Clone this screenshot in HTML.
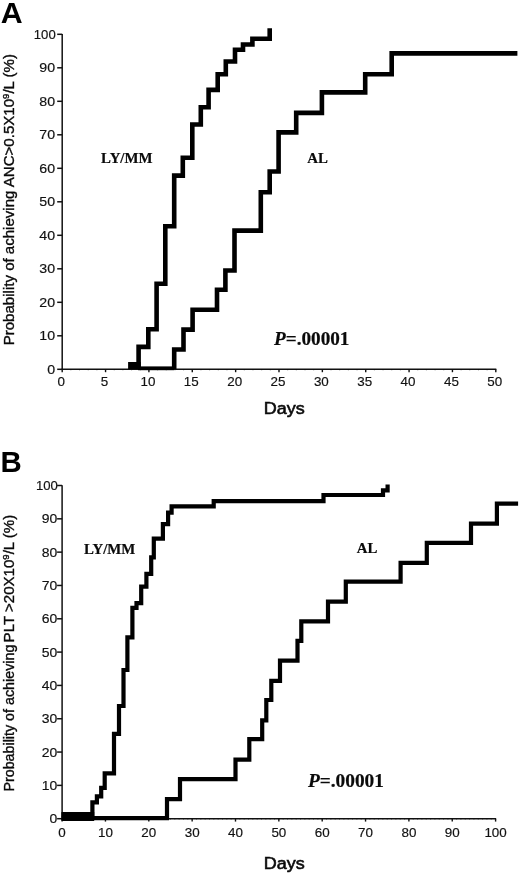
<!DOCTYPE html>
<html lang="en"><head><meta charset="utf-8"><title>Figure</title>
<style>html,body{margin:0;padding:0;background:#fff}body{width:520px;height:874px;overflow:hidden}svg{display:block;filter:grayscale(1)}</style>
</head><body>
<svg width="520" height="874" viewBox="0 0 520 874">
<rect width="520" height="874" fill="#fff"/>
<style>
.tk{font-family:"Liberation Sans",sans-serif;font-size:12px;fill:#111;stroke:#111;stroke-width:0.15px}
.yl{font-family:"Liberation Sans",sans-serif;fill:#0a0a0a;stroke:#0a0a0a;stroke-width:0.35px}
.dy{font-family:"Liberation Sans",sans-serif;font-size:16.1px;fill:#0a0a0a;stroke:#0a0a0a;stroke-width:0.55px}
.pn{font-family:"Liberation Sans",sans-serif;font-size:30.3px;font-weight:bold;fill:#000}
.sf{font-family:"Liberation Serif",serif;font-weight:bold;fill:#0a0a0a;stroke:#0a0a0a;stroke-width:0.2px}
.cv{fill:none;stroke:#000;stroke-linejoin:miter;stroke-linecap:butt}
</style>
<text x="0.8" y="23.2" class="pn">A</text>
<text x="0.4" y="472.1" class="pn" style="font-size:29.4px">B</text>
<line x1="62.20" y1="34.0" x2="62.20" y2="369.90" stroke="#111" stroke-width="1.5"/>
<line x1="61.60" y1="369.30" x2="496.30" y2="369.30" stroke="#111" stroke-width="1.4"/>
<line x1="57.20" y1="369.30" x2="62.20" y2="369.30" stroke="#111" stroke-width="1.5"/><line x1="57.20" y1="335.80" x2="62.20" y2="335.80" stroke="#111" stroke-width="1.5"/><line x1="57.20" y1="302.30" x2="62.20" y2="302.30" stroke="#111" stroke-width="1.5"/><line x1="57.20" y1="268.80" x2="62.20" y2="268.80" stroke="#111" stroke-width="1.5"/><line x1="57.20" y1="235.30" x2="62.20" y2="235.30" stroke="#111" stroke-width="1.5"/><line x1="57.20" y1="201.80" x2="62.20" y2="201.80" stroke="#111" stroke-width="1.5"/><line x1="57.20" y1="168.30" x2="62.20" y2="168.30" stroke="#111" stroke-width="1.5"/><line x1="57.20" y1="134.80" x2="62.20" y2="134.80" stroke="#111" stroke-width="1.5"/><line x1="57.20" y1="101.30" x2="62.20" y2="101.30" stroke="#111" stroke-width="1.5"/><line x1="57.20" y1="67.80" x2="62.20" y2="67.80" stroke="#111" stroke-width="1.5"/><line x1="57.20" y1="34.30" x2="62.20" y2="34.30" stroke="#111" stroke-width="1.5"/>
<line x1="62.20" y1="369.30" x2="62.20" y2="370.60" stroke="#000" stroke-width="0.9" opacity="0.3"/><line x1="70.87" y1="369.30" x2="70.87" y2="370.60" stroke="#000" stroke-width="0.9" opacity="0.3"/><line x1="79.54" y1="369.30" x2="79.54" y2="370.60" stroke="#000" stroke-width="0.9" opacity="0.3"/><line x1="88.22" y1="369.30" x2="88.22" y2="370.60" stroke="#000" stroke-width="0.9" opacity="0.3"/><line x1="96.89" y1="369.30" x2="96.89" y2="370.60" stroke="#000" stroke-width="0.9" opacity="0.3"/><line x1="105.56" y1="369.30" x2="105.56" y2="370.60" stroke="#000" stroke-width="0.9" opacity="0.3"/><line x1="114.23" y1="369.30" x2="114.23" y2="370.60" stroke="#000" stroke-width="0.9" opacity="0.3"/><line x1="122.90" y1="369.30" x2="122.90" y2="370.60" stroke="#000" stroke-width="0.9" opacity="0.3"/><line x1="131.58" y1="369.30" x2="131.58" y2="370.60" stroke="#000" stroke-width="0.9" opacity="0.3"/><line x1="140.25" y1="369.30" x2="140.25" y2="370.60" stroke="#000" stroke-width="0.9" opacity="0.3"/><line x1="148.92" y1="369.30" x2="148.92" y2="370.60" stroke="#000" stroke-width="0.9" opacity="0.3"/><line x1="157.59" y1="369.30" x2="157.59" y2="370.60" stroke="#000" stroke-width="0.9" opacity="0.3"/><line x1="166.26" y1="369.30" x2="166.26" y2="370.60" stroke="#000" stroke-width="0.9" opacity="0.3"/><line x1="174.94" y1="369.30" x2="174.94" y2="370.60" stroke="#000" stroke-width="0.9" opacity="0.3"/><line x1="183.61" y1="369.30" x2="183.61" y2="370.60" stroke="#000" stroke-width="0.9" opacity="0.3"/><line x1="192.28" y1="369.30" x2="192.28" y2="370.60" stroke="#000" stroke-width="0.9" opacity="0.3"/><line x1="200.95" y1="369.30" x2="200.95" y2="370.60" stroke="#000" stroke-width="0.9" opacity="0.3"/><line x1="209.62" y1="369.30" x2="209.62" y2="370.60" stroke="#000" stroke-width="0.9" opacity="0.3"/><line x1="218.30" y1="369.30" x2="218.30" y2="370.60" stroke="#000" stroke-width="0.9" opacity="0.3"/><line x1="226.97" y1="369.30" x2="226.97" y2="370.60" stroke="#000" stroke-width="0.9" opacity="0.3"/><line x1="235.64" y1="369.30" x2="235.64" y2="370.60" stroke="#000" stroke-width="0.9" opacity="0.3"/><line x1="244.31" y1="369.30" x2="244.31" y2="370.60" stroke="#000" stroke-width="0.9" opacity="0.3"/><line x1="252.98" y1="369.30" x2="252.98" y2="370.60" stroke="#000" stroke-width="0.9" opacity="0.3"/><line x1="261.66" y1="369.30" x2="261.66" y2="370.60" stroke="#000" stroke-width="0.9" opacity="0.3"/><line x1="270.33" y1="369.30" x2="270.33" y2="370.60" stroke="#000" stroke-width="0.9" opacity="0.3"/><line x1="279.00" y1="369.30" x2="279.00" y2="370.60" stroke="#000" stroke-width="0.9" opacity="0.3"/><line x1="287.67" y1="369.30" x2="287.67" y2="370.60" stroke="#000" stroke-width="0.9" opacity="0.3"/><line x1="296.34" y1="369.30" x2="296.34" y2="370.60" stroke="#000" stroke-width="0.9" opacity="0.3"/><line x1="305.02" y1="369.30" x2="305.02" y2="370.60" stroke="#000" stroke-width="0.9" opacity="0.3"/><line x1="313.69" y1="369.30" x2="313.69" y2="370.60" stroke="#000" stroke-width="0.9" opacity="0.3"/><line x1="322.36" y1="369.30" x2="322.36" y2="370.60" stroke="#000" stroke-width="0.9" opacity="0.3"/><line x1="331.03" y1="369.30" x2="331.03" y2="370.60" stroke="#000" stroke-width="0.9" opacity="0.3"/><line x1="339.70" y1="369.30" x2="339.70" y2="370.60" stroke="#000" stroke-width="0.9" opacity="0.3"/><line x1="348.38" y1="369.30" x2="348.38" y2="370.60" stroke="#000" stroke-width="0.9" opacity="0.3"/><line x1="357.05" y1="369.30" x2="357.05" y2="370.60" stroke="#000" stroke-width="0.9" opacity="0.3"/><line x1="365.72" y1="369.30" x2="365.72" y2="370.60" stroke="#000" stroke-width="0.9" opacity="0.3"/><line x1="374.39" y1="369.30" x2="374.39" y2="370.60" stroke="#000" stroke-width="0.9" opacity="0.3"/><line x1="383.06" y1="369.30" x2="383.06" y2="370.60" stroke="#000" stroke-width="0.9" opacity="0.3"/><line x1="391.74" y1="369.30" x2="391.74" y2="370.60" stroke="#000" stroke-width="0.9" opacity="0.3"/><line x1="400.41" y1="369.30" x2="400.41" y2="370.60" stroke="#000" stroke-width="0.9" opacity="0.3"/><line x1="409.08" y1="369.30" x2="409.08" y2="370.60" stroke="#000" stroke-width="0.9" opacity="0.3"/><line x1="417.75" y1="369.30" x2="417.75" y2="370.60" stroke="#000" stroke-width="0.9" opacity="0.3"/><line x1="426.42" y1="369.30" x2="426.42" y2="370.60" stroke="#000" stroke-width="0.9" opacity="0.3"/><line x1="435.10" y1="369.30" x2="435.10" y2="370.60" stroke="#000" stroke-width="0.9" opacity="0.3"/><line x1="443.77" y1="369.30" x2="443.77" y2="370.60" stroke="#000" stroke-width="0.9" opacity="0.3"/><line x1="452.44" y1="369.30" x2="452.44" y2="370.60" stroke="#000" stroke-width="0.9" opacity="0.3"/><line x1="461.11" y1="369.30" x2="461.11" y2="370.60" stroke="#000" stroke-width="0.9" opacity="0.3"/><line x1="469.78" y1="369.30" x2="469.78" y2="370.60" stroke="#000" stroke-width="0.9" opacity="0.3"/><line x1="478.46" y1="369.30" x2="478.46" y2="370.60" stroke="#000" stroke-width="0.9" opacity="0.3"/><line x1="487.13" y1="369.30" x2="487.13" y2="370.60" stroke="#000" stroke-width="0.9" opacity="0.3"/><line x1="495.80" y1="369.30" x2="495.80" y2="370.60" stroke="#000" stroke-width="0.9" opacity="0.3"/><line x1="62.20" y1="369.30" x2="62.20" y2="372.20" stroke="#111" stroke-width="1.4"/><line x1="105.56" y1="369.30" x2="105.56" y2="372.20" stroke="#111" stroke-width="1.4"/><line x1="148.92" y1="369.30" x2="148.92" y2="372.20" stroke="#111" stroke-width="1.4"/><line x1="192.28" y1="369.30" x2="192.28" y2="372.20" stroke="#111" stroke-width="1.4"/><line x1="235.64" y1="369.30" x2="235.64" y2="372.20" stroke="#111" stroke-width="1.4"/><line x1="279.00" y1="369.30" x2="279.00" y2="372.20" stroke="#111" stroke-width="1.4"/><line x1="322.36" y1="369.30" x2="322.36" y2="372.20" stroke="#111" stroke-width="1.4"/><line x1="365.72" y1="369.30" x2="365.72" y2="372.20" stroke="#111" stroke-width="1.4"/><line x1="409.08" y1="369.30" x2="409.08" y2="372.20" stroke="#111" stroke-width="1.4"/><line x1="452.44" y1="369.30" x2="452.44" y2="372.20" stroke="#111" stroke-width="1.4"/><line x1="495.80" y1="369.30" x2="495.80" y2="372.20" stroke="#111" stroke-width="1.4"/>
<text transform="translate(55.10,373.69) scale(1.182,1.070)" text-anchor="end" class="tk">0</text><text transform="translate(55.10,340.19) scale(1.182,1.070)" text-anchor="end" class="tk">10</text><text transform="translate(55.10,306.69) scale(1.182,1.070)" text-anchor="end" class="tk">20</text><text transform="translate(55.10,273.19) scale(1.182,1.070)" text-anchor="end" class="tk">30</text><text transform="translate(55.10,239.69) scale(1.182,1.070)" text-anchor="end" class="tk">40</text><text transform="translate(55.10,206.19) scale(1.182,1.070)" text-anchor="end" class="tk">50</text><text transform="translate(55.10,172.69) scale(1.182,1.070)" text-anchor="end" class="tk">60</text><text transform="translate(55.10,139.19) scale(1.182,1.070)" text-anchor="end" class="tk">70</text><text transform="translate(55.10,105.69) scale(1.182,1.070)" text-anchor="end" class="tk">80</text><text transform="translate(55.10,72.19) scale(1.182,1.070)" text-anchor="end" class="tk">90</text><text transform="translate(55.70,38.69) scale(1.095,1.070)" text-anchor="end" class="tk">100</text>
<text transform="translate(61.20,386.20) scale(1.120,1.04)" text-anchor="middle" class="tk">0</text><text transform="translate(104.56,386.20) scale(1.120,1.04)" text-anchor="middle" class="tk">5</text><text transform="translate(147.92,386.20) scale(1.120,1.04)" text-anchor="middle" class="tk">10</text><text transform="translate(191.28,386.20) scale(1.120,1.04)" text-anchor="middle" class="tk">15</text><text transform="translate(234.64,386.20) scale(1.120,1.04)" text-anchor="middle" class="tk">20</text><text transform="translate(278.00,386.20) scale(1.120,1.04)" text-anchor="middle" class="tk">25</text><text transform="translate(321.36,386.20) scale(1.120,1.04)" text-anchor="middle" class="tk">30</text><text transform="translate(364.72,386.20) scale(1.120,1.04)" text-anchor="middle" class="tk">35</text><text transform="translate(408.08,386.20) scale(1.120,1.04)" text-anchor="middle" class="tk">40</text><text transform="translate(451.44,386.20) scale(1.120,1.04)" text-anchor="middle" class="tk">45</text><text transform="translate(494.80,386.20) scale(1.120,1.04)" text-anchor="middle" class="tk">50</text>
<rect x="138" y="366.4" width="36" height="3.8" fill="#000"/>
<rect x="128.1" y="362.0" width="12.6" height="7.2" fill="#000"/>
<path class="cv" stroke-width="4.6" d="M 174.20,369.00 V 349.50 H 183.50 V 329.60 H 192.60 V 309.80 H 217.00 V 289.80 H 225.40 V 270.50 H 234.50 V 230.60 H 260.80 V 192.30 H 269.70 V 171.50 H 278.60 V 132.40 H 296.20 V 112.90 H 321.90 V 92.40 H 365.20 V 74.20 H 391.70 V 53.40 H 517.40"/>
<path class="cv" stroke-width="4.6" d="M 138.60,368.00 V 346.90 H 148.30 V 329.30 H 156.60 V 283.80 H 165.30 V 226.30 H 174.20 V 175.60 H 182.80 V 157.80 H 192.30 V 124.50 H 200.80 V 107.20 H 208.60 V 89.90 H 217.70 V 74.20 H 225.80 V 61.50 H 235.00 V 49.80 H 243.00 V 44.50 H 252.40 V 38.80 H 269.70 V 28.30"/>
<text transform="translate(101.1,163.4) scale(1,1.04)" class="sf" font-size="14.85">LY/MM</text>
<text transform="translate(307.2,163.4) scale(1,1.04)" class="sf" font-size="14.85">AL</text>
<text x="274.0" y="344.8" class="sf" font-size="19.2"><tspan font-style="italic">P</tspan>=.00001</text>
<text transform="translate(284.3,414.2) scale(1.12,1)" text-anchor="middle" class="dy">Days</text>
<text transform="translate(13.5,345.3) rotate(-90)" class="yl" font-size="15.05">Probability of achieving ANC&gt;0.5X10<tspan font-size="9.6" dy="-4.8">9</tspan><tspan dy="4.8">/L (%)</tspan></text>
<line x1="62.10" y1="485.3" x2="62.10" y2="819.30" stroke="#111" stroke-width="1.5"/>
<line x1="61.50" y1="818.70" x2="496.10" y2="818.70" stroke="#111" stroke-width="1.6"/>
<line x1="57.10" y1="818.70" x2="62.10" y2="818.70" stroke="#111" stroke-width="1.5"/><line x1="57.10" y1="785.38" x2="62.10" y2="785.38" stroke="#111" stroke-width="1.5"/><line x1="57.10" y1="752.06" x2="62.10" y2="752.06" stroke="#111" stroke-width="1.5"/><line x1="57.10" y1="718.74" x2="62.10" y2="718.74" stroke="#111" stroke-width="1.5"/><line x1="57.10" y1="685.42" x2="62.10" y2="685.42" stroke="#111" stroke-width="1.5"/><line x1="57.10" y1="652.10" x2="62.10" y2="652.10" stroke="#111" stroke-width="1.5"/><line x1="57.10" y1="618.78" x2="62.10" y2="618.78" stroke="#111" stroke-width="1.5"/><line x1="57.10" y1="585.46" x2="62.10" y2="585.46" stroke="#111" stroke-width="1.5"/><line x1="57.10" y1="552.14" x2="62.10" y2="552.14" stroke="#111" stroke-width="1.5"/><line x1="57.10" y1="518.82" x2="62.10" y2="518.82" stroke="#111" stroke-width="1.5"/><line x1="57.10" y1="485.50" x2="62.10" y2="485.50" stroke="#111" stroke-width="1.5"/>
<line x1="62.10" y1="818.70" x2="62.10" y2="820.00" stroke="#000" stroke-width="0.9" opacity="0.3"/><line x1="66.44" y1="818.70" x2="66.44" y2="820.00" stroke="#000" stroke-width="0.9" opacity="0.3"/><line x1="70.77" y1="818.70" x2="70.77" y2="820.00" stroke="#000" stroke-width="0.9" opacity="0.3"/><line x1="75.11" y1="818.70" x2="75.11" y2="820.00" stroke="#000" stroke-width="0.9" opacity="0.3"/><line x1="79.44" y1="818.70" x2="79.44" y2="820.00" stroke="#000" stroke-width="0.9" opacity="0.3"/><line x1="83.78" y1="818.70" x2="83.78" y2="820.00" stroke="#000" stroke-width="0.9" opacity="0.3"/><line x1="88.11" y1="818.70" x2="88.11" y2="820.00" stroke="#000" stroke-width="0.9" opacity="0.3"/><line x1="92.44" y1="818.70" x2="92.44" y2="820.00" stroke="#000" stroke-width="0.9" opacity="0.3"/><line x1="96.78" y1="818.70" x2="96.78" y2="820.00" stroke="#000" stroke-width="0.9" opacity="0.3"/><line x1="101.12" y1="818.70" x2="101.12" y2="820.00" stroke="#000" stroke-width="0.9" opacity="0.3"/><line x1="105.45" y1="818.70" x2="105.45" y2="820.00" stroke="#000" stroke-width="0.9" opacity="0.3"/><line x1="109.78" y1="818.70" x2="109.78" y2="820.00" stroke="#000" stroke-width="0.9" opacity="0.3"/><line x1="114.12" y1="818.70" x2="114.12" y2="820.00" stroke="#000" stroke-width="0.9" opacity="0.3"/><line x1="118.45" y1="818.70" x2="118.45" y2="820.00" stroke="#000" stroke-width="0.9" opacity="0.3"/><line x1="122.79" y1="818.70" x2="122.79" y2="820.00" stroke="#000" stroke-width="0.9" opacity="0.3"/><line x1="127.12" y1="818.70" x2="127.12" y2="820.00" stroke="#000" stroke-width="0.9" opacity="0.3"/><line x1="131.46" y1="818.70" x2="131.46" y2="820.00" stroke="#000" stroke-width="0.9" opacity="0.3"/><line x1="135.79" y1="818.70" x2="135.79" y2="820.00" stroke="#000" stroke-width="0.9" opacity="0.3"/><line x1="140.13" y1="818.70" x2="140.13" y2="820.00" stroke="#000" stroke-width="0.9" opacity="0.3"/><line x1="144.47" y1="818.70" x2="144.47" y2="820.00" stroke="#000" stroke-width="0.9" opacity="0.3"/><line x1="148.80" y1="818.70" x2="148.80" y2="820.00" stroke="#000" stroke-width="0.9" opacity="0.3"/><line x1="153.13" y1="818.70" x2="153.13" y2="820.00" stroke="#000" stroke-width="0.9" opacity="0.3"/><line x1="157.47" y1="818.70" x2="157.47" y2="820.00" stroke="#000" stroke-width="0.9" opacity="0.3"/><line x1="161.81" y1="818.70" x2="161.81" y2="820.00" stroke="#000" stroke-width="0.9" opacity="0.3"/><line x1="166.14" y1="818.70" x2="166.14" y2="820.00" stroke="#000" stroke-width="0.9" opacity="0.3"/><line x1="170.47" y1="818.70" x2="170.47" y2="820.00" stroke="#000" stroke-width="0.9" opacity="0.3"/><line x1="174.81" y1="818.70" x2="174.81" y2="820.00" stroke="#000" stroke-width="0.9" opacity="0.3"/><line x1="179.15" y1="818.70" x2="179.15" y2="820.00" stroke="#000" stroke-width="0.9" opacity="0.3"/><line x1="183.48" y1="818.70" x2="183.48" y2="820.00" stroke="#000" stroke-width="0.9" opacity="0.3"/><line x1="187.81" y1="818.70" x2="187.81" y2="820.00" stroke="#000" stroke-width="0.9" opacity="0.3"/><line x1="192.15" y1="818.70" x2="192.15" y2="820.00" stroke="#000" stroke-width="0.9" opacity="0.3"/><line x1="196.48" y1="818.70" x2="196.48" y2="820.00" stroke="#000" stroke-width="0.9" opacity="0.3"/><line x1="200.82" y1="818.70" x2="200.82" y2="820.00" stroke="#000" stroke-width="0.9" opacity="0.3"/><line x1="205.16" y1="818.70" x2="205.16" y2="820.00" stroke="#000" stroke-width="0.9" opacity="0.3"/><line x1="209.49" y1="818.70" x2="209.49" y2="820.00" stroke="#000" stroke-width="0.9" opacity="0.3"/><line x1="213.82" y1="818.70" x2="213.82" y2="820.00" stroke="#000" stroke-width="0.9" opacity="0.3"/><line x1="218.16" y1="818.70" x2="218.16" y2="820.00" stroke="#000" stroke-width="0.9" opacity="0.3"/><line x1="222.50" y1="818.70" x2="222.50" y2="820.00" stroke="#000" stroke-width="0.9" opacity="0.3"/><line x1="226.83" y1="818.70" x2="226.83" y2="820.00" stroke="#000" stroke-width="0.9" opacity="0.3"/><line x1="231.16" y1="818.70" x2="231.16" y2="820.00" stroke="#000" stroke-width="0.9" opacity="0.3"/><line x1="235.50" y1="818.70" x2="235.50" y2="820.00" stroke="#000" stroke-width="0.9" opacity="0.3"/><line x1="239.83" y1="818.70" x2="239.83" y2="820.00" stroke="#000" stroke-width="0.9" opacity="0.3"/><line x1="244.17" y1="818.70" x2="244.17" y2="820.00" stroke="#000" stroke-width="0.9" opacity="0.3"/><line x1="248.50" y1="818.70" x2="248.50" y2="820.00" stroke="#000" stroke-width="0.9" opacity="0.3"/><line x1="252.84" y1="818.70" x2="252.84" y2="820.00" stroke="#000" stroke-width="0.9" opacity="0.3"/><line x1="257.18" y1="818.70" x2="257.18" y2="820.00" stroke="#000" stroke-width="0.9" opacity="0.3"/><line x1="261.51" y1="818.70" x2="261.51" y2="820.00" stroke="#000" stroke-width="0.9" opacity="0.3"/><line x1="265.85" y1="818.70" x2="265.85" y2="820.00" stroke="#000" stroke-width="0.9" opacity="0.3"/><line x1="270.18" y1="818.70" x2="270.18" y2="820.00" stroke="#000" stroke-width="0.9" opacity="0.3"/><line x1="274.51" y1="818.70" x2="274.51" y2="820.00" stroke="#000" stroke-width="0.9" opacity="0.3"/><line x1="278.85" y1="818.70" x2="278.85" y2="820.00" stroke="#000" stroke-width="0.9" opacity="0.3"/><line x1="283.19" y1="818.70" x2="283.19" y2="820.00" stroke="#000" stroke-width="0.9" opacity="0.3"/><line x1="287.52" y1="818.70" x2="287.52" y2="820.00" stroke="#000" stroke-width="0.9" opacity="0.3"/><line x1="291.86" y1="818.70" x2="291.86" y2="820.00" stroke="#000" stroke-width="0.9" opacity="0.3"/><line x1="296.19" y1="818.70" x2="296.19" y2="820.00" stroke="#000" stroke-width="0.9" opacity="0.3"/><line x1="300.53" y1="818.70" x2="300.53" y2="820.00" stroke="#000" stroke-width="0.9" opacity="0.3"/><line x1="304.86" y1="818.70" x2="304.86" y2="820.00" stroke="#000" stroke-width="0.9" opacity="0.3"/><line x1="309.19" y1="818.70" x2="309.19" y2="820.00" stroke="#000" stroke-width="0.9" opacity="0.3"/><line x1="313.53" y1="818.70" x2="313.53" y2="820.00" stroke="#000" stroke-width="0.9" opacity="0.3"/><line x1="317.87" y1="818.70" x2="317.87" y2="820.00" stroke="#000" stroke-width="0.9" opacity="0.3"/><line x1="322.20" y1="818.70" x2="322.20" y2="820.00" stroke="#000" stroke-width="0.9" opacity="0.3"/><line x1="326.54" y1="818.70" x2="326.54" y2="820.00" stroke="#000" stroke-width="0.9" opacity="0.3"/><line x1="330.87" y1="818.70" x2="330.87" y2="820.00" stroke="#000" stroke-width="0.9" opacity="0.3"/><line x1="335.21" y1="818.70" x2="335.21" y2="820.00" stroke="#000" stroke-width="0.9" opacity="0.3"/><line x1="339.54" y1="818.70" x2="339.54" y2="820.00" stroke="#000" stroke-width="0.9" opacity="0.3"/><line x1="343.88" y1="818.70" x2="343.88" y2="820.00" stroke="#000" stroke-width="0.9" opacity="0.3"/><line x1="348.21" y1="818.70" x2="348.21" y2="820.00" stroke="#000" stroke-width="0.9" opacity="0.3"/><line x1="352.55" y1="818.70" x2="352.55" y2="820.00" stroke="#000" stroke-width="0.9" opacity="0.3"/><line x1="356.88" y1="818.70" x2="356.88" y2="820.00" stroke="#000" stroke-width="0.9" opacity="0.3"/><line x1="361.22" y1="818.70" x2="361.22" y2="820.00" stroke="#000" stroke-width="0.9" opacity="0.3"/><line x1="365.55" y1="818.70" x2="365.55" y2="820.00" stroke="#000" stroke-width="0.9" opacity="0.3"/><line x1="369.89" y1="818.70" x2="369.89" y2="820.00" stroke="#000" stroke-width="0.9" opacity="0.3"/><line x1="374.22" y1="818.70" x2="374.22" y2="820.00" stroke="#000" stroke-width="0.9" opacity="0.3"/><line x1="378.56" y1="818.70" x2="378.56" y2="820.00" stroke="#000" stroke-width="0.9" opacity="0.3"/><line x1="382.89" y1="818.70" x2="382.89" y2="820.00" stroke="#000" stroke-width="0.9" opacity="0.3"/><line x1="387.23" y1="818.70" x2="387.23" y2="820.00" stroke="#000" stroke-width="0.9" opacity="0.3"/><line x1="391.56" y1="818.70" x2="391.56" y2="820.00" stroke="#000" stroke-width="0.9" opacity="0.3"/><line x1="395.90" y1="818.70" x2="395.90" y2="820.00" stroke="#000" stroke-width="0.9" opacity="0.3"/><line x1="400.23" y1="818.70" x2="400.23" y2="820.00" stroke="#000" stroke-width="0.9" opacity="0.3"/><line x1="404.56" y1="818.70" x2="404.56" y2="820.00" stroke="#000" stroke-width="0.9" opacity="0.3"/><line x1="408.90" y1="818.70" x2="408.90" y2="820.00" stroke="#000" stroke-width="0.9" opacity="0.3"/><line x1="413.24" y1="818.70" x2="413.24" y2="820.00" stroke="#000" stroke-width="0.9" opacity="0.3"/><line x1="417.57" y1="818.70" x2="417.57" y2="820.00" stroke="#000" stroke-width="0.9" opacity="0.3"/><line x1="421.91" y1="818.70" x2="421.91" y2="820.00" stroke="#000" stroke-width="0.9" opacity="0.3"/><line x1="426.24" y1="818.70" x2="426.24" y2="820.00" stroke="#000" stroke-width="0.9" opacity="0.3"/><line x1="430.58" y1="818.70" x2="430.58" y2="820.00" stroke="#000" stroke-width="0.9" opacity="0.3"/><line x1="434.91" y1="818.70" x2="434.91" y2="820.00" stroke="#000" stroke-width="0.9" opacity="0.3"/><line x1="439.25" y1="818.70" x2="439.25" y2="820.00" stroke="#000" stroke-width="0.9" opacity="0.3"/><line x1="443.58" y1="818.70" x2="443.58" y2="820.00" stroke="#000" stroke-width="0.9" opacity="0.3"/><line x1="447.92" y1="818.70" x2="447.92" y2="820.00" stroke="#000" stroke-width="0.9" opacity="0.3"/><line x1="452.25" y1="818.70" x2="452.25" y2="820.00" stroke="#000" stroke-width="0.9" opacity="0.3"/><line x1="456.59" y1="818.70" x2="456.59" y2="820.00" stroke="#000" stroke-width="0.9" opacity="0.3"/><line x1="460.92" y1="818.70" x2="460.92" y2="820.00" stroke="#000" stroke-width="0.9" opacity="0.3"/><line x1="465.25" y1="818.70" x2="465.25" y2="820.00" stroke="#000" stroke-width="0.9" opacity="0.3"/><line x1="469.59" y1="818.70" x2="469.59" y2="820.00" stroke="#000" stroke-width="0.9" opacity="0.3"/><line x1="473.93" y1="818.70" x2="473.93" y2="820.00" stroke="#000" stroke-width="0.9" opacity="0.3"/><line x1="478.26" y1="818.70" x2="478.26" y2="820.00" stroke="#000" stroke-width="0.9" opacity="0.3"/><line x1="482.60" y1="818.70" x2="482.60" y2="820.00" stroke="#000" stroke-width="0.9" opacity="0.3"/><line x1="486.93" y1="818.70" x2="486.93" y2="820.00" stroke="#000" stroke-width="0.9" opacity="0.3"/><line x1="491.27" y1="818.70" x2="491.27" y2="820.00" stroke="#000" stroke-width="0.9" opacity="0.3"/><line x1="495.60" y1="818.70" x2="495.60" y2="820.00" stroke="#000" stroke-width="0.9" opacity="0.3"/><line x1="62.10" y1="818.70" x2="62.10" y2="821.60" stroke="#111" stroke-width="1.4"/><line x1="105.45" y1="818.70" x2="105.45" y2="821.60" stroke="#111" stroke-width="1.4"/><line x1="148.80" y1="818.70" x2="148.80" y2="821.60" stroke="#111" stroke-width="1.4"/><line x1="192.15" y1="818.70" x2="192.15" y2="821.60" stroke="#111" stroke-width="1.4"/><line x1="235.50" y1="818.70" x2="235.50" y2="821.60" stroke="#111" stroke-width="1.4"/><line x1="278.85" y1="818.70" x2="278.85" y2="821.60" stroke="#111" stroke-width="1.4"/><line x1="322.20" y1="818.70" x2="322.20" y2="821.60" stroke="#111" stroke-width="1.4"/><line x1="365.55" y1="818.70" x2="365.55" y2="821.60" stroke="#111" stroke-width="1.4"/><line x1="408.90" y1="818.70" x2="408.90" y2="821.60" stroke="#111" stroke-width="1.4"/><line x1="452.25" y1="818.70" x2="452.25" y2="821.60" stroke="#111" stroke-width="1.4"/><line x1="495.60" y1="818.70" x2="495.60" y2="821.60" stroke="#111" stroke-width="1.4"/>
<text transform="translate(57.20,823.21) scale(1.165,1.100)" text-anchor="end" class="tk">0</text><text transform="translate(57.20,789.89) scale(1.165,1.100)" text-anchor="end" class="tk">10</text><text transform="translate(57.20,756.57) scale(1.165,1.100)" text-anchor="end" class="tk">20</text><text transform="translate(57.20,723.25) scale(1.165,1.100)" text-anchor="end" class="tk">30</text><text transform="translate(57.20,689.93) scale(1.165,1.100)" text-anchor="end" class="tk">40</text><text transform="translate(57.20,656.61) scale(1.165,1.100)" text-anchor="end" class="tk">50</text><text transform="translate(57.20,623.29) scale(1.165,1.100)" text-anchor="end" class="tk">60</text><text transform="translate(57.20,589.97) scale(1.165,1.100)" text-anchor="end" class="tk">70</text><text transform="translate(57.20,556.65) scale(1.165,1.100)" text-anchor="end" class="tk">80</text><text transform="translate(57.20,523.33) scale(1.165,1.100)" text-anchor="end" class="tk">90</text><text transform="translate(57.80,490.01) scale(1.095,1.100)" text-anchor="end" class="tk">100</text>
<text transform="translate(62.10,837.00) scale(1.120,1.04)" text-anchor="middle" class="tk">0</text><text transform="translate(105.45,837.00) scale(1.120,1.04)" text-anchor="middle" class="tk">10</text><text transform="translate(148.80,837.00) scale(1.120,1.04)" text-anchor="middle" class="tk">20</text><text transform="translate(192.15,837.00) scale(1.120,1.04)" text-anchor="middle" class="tk">30</text><text transform="translate(235.50,837.00) scale(1.120,1.04)" text-anchor="middle" class="tk">40</text><text transform="translate(278.85,837.00) scale(1.120,1.04)" text-anchor="middle" class="tk">50</text><text transform="translate(322.20,837.00) scale(1.120,1.04)" text-anchor="middle" class="tk">60</text><text transform="translate(365.55,837.00) scale(1.120,1.04)" text-anchor="middle" class="tk">70</text><text transform="translate(408.90,837.00) scale(1.120,1.04)" text-anchor="middle" class="tk">80</text><text transform="translate(452.25,837.00) scale(1.120,1.04)" text-anchor="middle" class="tk">90</text><text transform="translate(495.60,837.00) scale(1.120,1.04)" text-anchor="middle" class="tk">100</text>
<path class="cv" stroke-width="4.2" d="M 61.60,818.20 H 167.00 V 799.10 H 180.00 V 779.10 H 235.50 V 759.60 H 249.30 V 739.10 H 262.20 V 720.30 H 266.30 V 700.00 H 271.30 V 680.90 H 280.00 V 660.60 H 297.50 V 640.90 H 301.30 V 621.30 H 328.00 V 601.60 H 345.80 V 581.60 H 400.60 V 562.90 H 426.80 V 542.80 H 471.00 V 523.60 H 496.90 V 503.60 H 518.10"/>
<path class="cv" stroke-width="4.2" d="M 61.60,814.30 H 92.40 V 802.40 H 96.90 V 796.30 H 101.20 V 787.90 H 104.70 V 773.30 H 114.00 V 733.80 H 119.00 V 706.00 H 123.50 V 670.00 H 127.40 V 637.30 H 132.40 V 607.90 H 136.50 V 603.20 H 141.20 V 586.70 H 146.40 V 573.80 H 151.20 V 557.30 H 153.80 V 538.70 H 162.90 V 524.20 H 168.10 V 512.70 H 171.60 V 506.40 H 213.70 V 501.10 H 323.50 V 495.00 H 383.00 V 490.40 H 387.60 V 484.60"/>
<rect x="61.6" y="812" width="32.6" height="9" fill="#000"/>
<text transform="translate(84,554.1) scale(1,1.04)" class="sf" font-size="14.85">LY/MM</text>
<text transform="translate(356.7,553.2) scale(1,1.04)" class="sf" font-size="14.85">AL</text>
<text x="307.9" y="786.5" class="sf" font-size="19.35"><tspan font-style="italic">P</tspan>=.00001</text>
<text transform="translate(284.3,868.5) scale(1.12,1)" text-anchor="middle" class="dy">Days</text>
<text transform="translate(13.5,791.6) rotate(-90)" class="yl" font-size="14.3">Probability of achieving</text><text transform="translate(13.5,642.4) rotate(-90)" class="yl" font-size="15.05">PLT &gt;20X10<tspan font-size="9.6" dy="-4.8">9</tspan><tspan dy="4.8">/L (%)</tspan></text>
</svg>
</body></html>
